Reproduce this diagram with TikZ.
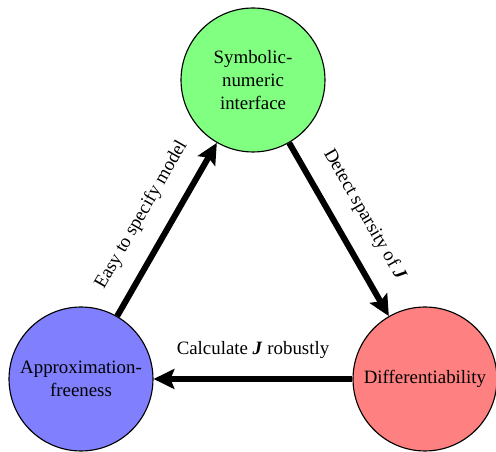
\documentclass[tikz,border=0pt]{standalone}
\usepackage{fontspec}
\setmainfont{Liberation Serif}
\usetikzlibrary{arrows.meta}
\begin{document}
\begin{tikzpicture}[x=0.53pt,y=-0.53pt,
  bubble/.style={circle,draw=black,line width=0.6pt,minimum size=76.3pt,inner sep=1pt,align=center,font=\fontsize{10pt}{12pt}\selectfont},
  flow/.style={line width=3.2pt,-{Stealth[length=11pt,width=10.5pt,inset=2pt]}},
  lbl/.style={midway,above=6pt,font=\fontsize{10pt}{12pt}\selectfont}]
\useasboundingbox (0,0) rectangle (496,452);
\node[bubble,fill=green!50] (sym) at (253,80) {Symbolic-\\numeric\\interface};
\node[bubble,fill=blue!50] (app) at (81,379) {Approximation-\\freeness};
\node[bubble,fill=red!50] (dif) at (425,379) {Differentiability};
\draw[flow] (app) -- node[lbl,sloped] {Easy to specify model} (sym);
\draw[flow] (sym) -- node[lbl,sloped] {Detect sparsity of \textbf{\textit{J}}} (dif);
\draw[flow] (dif) -- node[lbl] {Calculate \textbf{\textit{J}} robustly} (app);
\end{tikzpicture}
\end{document}
